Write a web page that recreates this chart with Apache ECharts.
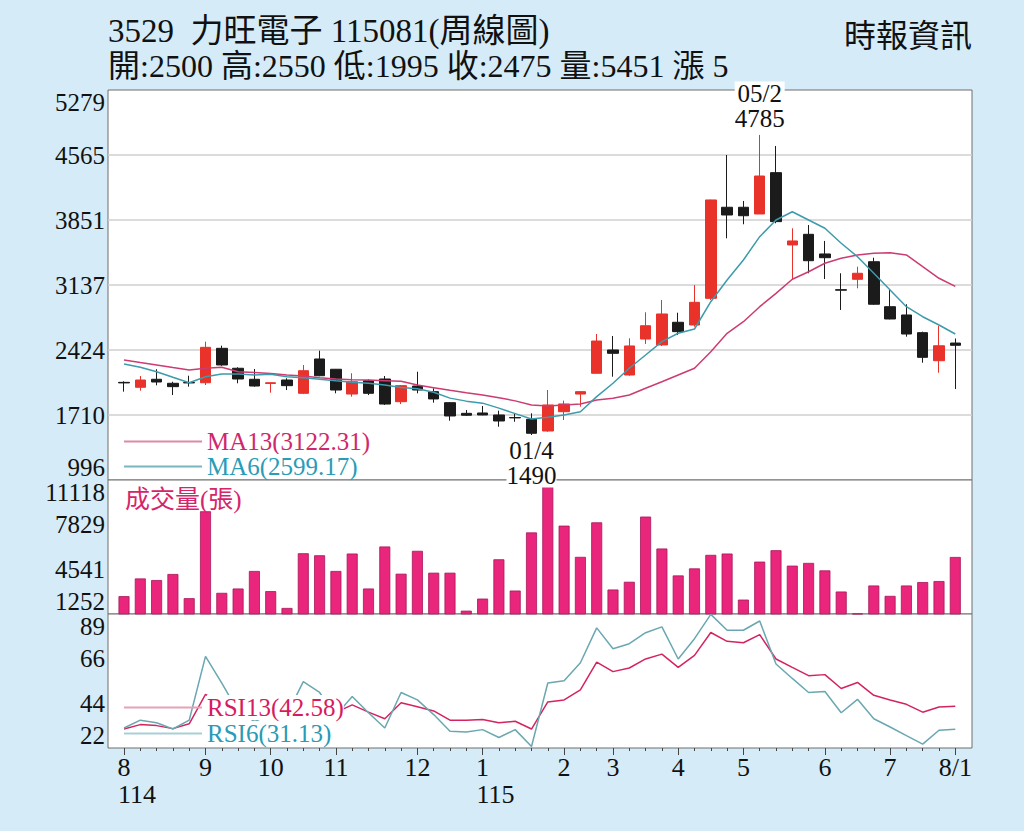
<!DOCTYPE html>
<html>
<head>
<meta charset="utf-8">
<title>3529 力旺電子 周線圖</title>
<script src="https://cdn.jsdelivr.net/npm/echarts@6/dist/echarts.min.js"></script>
<style>
html,body{margin:0;padding:0;background:#d5ecf8;overflow:hidden;}
#chart{width:1024px;height:831px;}
</style>
</head>
<body>
<div id="chart"></div>
<script>
// ---------- data ----------
const categories = [
  '114/08/1','114/08/2','114/08/3','114/08/4','114/08/5',
  '114/09/1','114/09/2','114/09/3','114/09/4',
  '114/10/1','114/10/2','114/10/3','114/10/4',
  '114/11/1','114/11/2','114/11/3','114/11/4','114/11/5',
  '114/12/1','114/12/2','114/12/3','114/12/4',
  '115/01/1','115/01/2','115/01/3','115/01/4','115/01/5',
  '115/02/1','115/02/2','115/02/3',
  '115/03/1','115/03/2','115/03/3','115/03/4',
  '115/04/1','115/04/2','115/04/3','115/04/4',
  '115/05/1','115/05/2','115/05/3','115/05/4','115/05/5',
  '115/06/1','115/06/2','115/06/3','115/06/4',
  '115/07/1','115/07/2','115/07/3','115/07/4',
  '115/08/1'
];
const opens  = [2068,2014,2102,2058,2066,2064,2442,2223,2102,2056,2094,1948,2325,2212,1940,2086,2105,1856,2028,1966,1845,1728,1732,1710,1682,1663,1534,1746,1940,2168,2424,2149,2544,2479,2728,2698,2991,3991,3991,3917,4371,3577,3694,3478,3086,3200,3393,2899,2808,2614,2306,2500];
const closes = [2062,2094,2072,2021,2062,2453,2259,2105,2028,2064,2032,2196,2141,1984,2075,1948,1830,2032,1984,1886,1699,1707,1710,1644,1678,1509,1820,1831,1966,2522,2387,2468,2690,2819,2625,2947,4071,3906,3898,4334,3833,3621,3404,3437,3080,3266,2926,2764,2599,2343,2470,2475];
const lows   = [1966,1977,2036,1929,2021,2039,2250,2058,2020,1955,1984,1940,2135,1948,1911,1929,1820,1830,1948,1845,1647,1699,1707,1581,1636,1490,1526,1655,1801,2165,2130,2141,2490,2468,2588,2680,2973,3650,3804,3917,3815,3200,3266,3203,2863,3101,2920,2760,2570,2284,2174,1995];
const highs  = [2080,2138,2212,2075,2141,2515,2471,2234,2215,2068,2113,2259,2416,2215,2168,2102,2138,2039,2185,2003,1850,1765,1809,1757,1728,1728,1984,1867,1970,2599,2577,2552,2838,2973,2833,3137,4075,4565,4060,4785,4664,3760,3796,3621,3266,3338,3437,3083,2926,2625,2690,2550];
const volumes = [2565,3871,3752,4197,2417,8818,2810,3129,4420,2936,1697,5725,5577,4420,5703,3129,6222,4219,5903,4293,4293,1497,2387,5280,2980,7260,11118,7758,5458,8002,3055,3626,8425,6074,4093,4612,5606,5703,2313,5109,5948,4813,5013,4464,2906,1290,3351,2587,3351,3603,3678,5451];
const ma13 = [2314,2286,2259,2231,2204,2223,2234,2185,2177,2166,2149,2138,2119,2105,2098,2094,2087,2080,2039,2010,1981,1955,1930,1900,1865,1820,1809,1820,1831,1875,1893,1929,2003,2075,2149,2223,2405,2607,2734,2899,3046,3200,3283,3376,3431,3467,3486,3492,3467,3338,3211,3122];
const ma6  = [2270,2234,2185,2124,2064,2130,2160,2160,2149,2157,2130,2119,2102,2085,2070,2058,2039,2012,1998,1960,1895,1862,1840,1785,1725,1665,1685,1710,1746,1911,2058,2223,2369,2515,2607,2654,2954,3192,3412,3668,3851,3942,3851,3760,3596,3448,3266,3083,2899,2789,2698,2599];
const rsi13 = [31.2,33.4,32.9,31.4,33.8,48.5,44.0,42.0,39.5,40.5,39.5,45.0,43.0,39.5,43.2,39.6,36.3,44.3,42.3,40.2,35.6,35.6,35.9,34.3,35.1,31.2,44.7,45.7,50.7,64.5,59.8,61.6,66.1,68.5,61.9,67.9,79.3,74.9,74.2,78.2,66.1,61.9,57.8,58.3,51.4,54.4,48.0,45.7,43.5,39.6,42.2,42.58];
const rsi6  = [31.7,35.6,34.3,31.2,35.6,67.4,54.1,40.0,35.0,38.0,38.5,54.8,49.4,38.0,47.4,39.3,31.7,49.4,45.7,38.4,30.1,29.7,30.9,27.0,30.9,22.5,54.1,55.3,64.2,81.6,71.2,73.7,79.2,82.1,66.1,76.2,88.3,80.4,80.4,85.0,63.6,56.4,49.4,49.9,39.3,46.0,36.3,32.2,27.9,23.7,30.6,31.13];

// tick labels
const priceTicks  = [996,1710,2424,3137,3851,4565,5279];
const volumeTicks = [1252,4541,7829,11118];
const rsiTicks    = [22,44,66,89];
const monthTicks = ['114/08/1','114/09/1','114/10/1','114/11/1','114/12/1','115/01/1','115/02/1','115/03/1','115/04/1','115/05/1','115/06/1','115/07/1','115/08/1'];
const monthTickLabels = ['8','9','10','11','12','1','2','3','4','5','6','7','8/1'];
const yearTicks = ['114/08/1','115/01/1'];
const yearTickLabels = ['114','115'];

// texts
const stockTitle = '3529  力旺電子 115081(周線圖)';
const sourceText = '時報資訊';
const volumeTitle = '成交量(張)';
const legendText = {MA13:'MA13(3122.31)', MA6:'MA6(2599.17)', RSI13:'RSI13(42.58)', RSI6:'RSI6(31.13)'};

// ---------- chart ----------
const FONT = "'Liberation Serif','Noto Sans CJK TC',serif";
const last = closes.length - 1;
const quoteLine = '開:' + opens[last] + ' 高:' + highs[last] + ' 低:' + lows[last] +
  ' 收:' + closes[last] + ' 量:' + volumes[last] + ' 漲 ' + (closes[last] - closes[last - 1]);
const hiIdx = highs.indexOf(Math.max.apply(null, highs));
const loIdx = lows.indexOf(Math.min.apply(null, lows));

function nearestLabel(ticks) {
  return function (v) {
    let b = 0;
    for (let k = 1; k < ticks.length; k++) if (Math.abs(ticks[k] - v) < Math.abs(ticks[b] - v)) b = k;
    return String(ticks[b]);
  };
}
function frameY(gridIndex, ticks, steps, split) {
  const interval = Math.round((ticks[ticks.length - 1] - ticks[0]) / steps * 4) / 4;
  const min = ticks[0] - (gridIndex === 2 ? 0.25 : 0);
  return {
    type: 'value', gridIndex: gridIndex, min: min, max: min + interval * steps, interval: interval,
    axisLine: {show: false}, axisTick: {show: false},
    axisLabel: {margin: 3, fontSize: 25, fontFamily: FONT, color: '#111', formatter: nearestLabel(ticks),
      verticalAlignMinLabel: 'bottom', verticalAlignMaxLabel: 'top'},
    splitLine: split ? {show: true, lineStyle: {width: 1.5,
      color: ticks.map(function (t, k) { return (k === 0 || k === ticks.length - 1) ? 'rgba(0,0,0,0)' : '#cfcfcf'; })}}
      : {show: false}
  };
}
const yP = frameY(0, priceTicks, 6, true);
const yV = frameY(1, volumeTicks, 3, false);
const yR = frameY(2, rsiTicks, 3, false);

const panes = [{top: 90, height: 390}, {top: 480, height: 134}, {top: 614, height: 134}];
const frameGrids = panes.map(function (p) {
  return {left: 108, right: 52, top: p.top, height: p.height, show: true, backgroundColor: '#ffffff',
    borderColor: '#6e6e6e', borderWidth: 1, outerBoundsMode: 'none'};
});
const innerGrids = panes.map(function (p) {
  return {left: 115.85, right: 60.55, top: p.top, height: p.height, outerBoundsMode: 'none'};
});

function hiddenX(g) { return {type: 'category', gridIndex: g, data: categories, show: false, boundaryGap: true}; }
const labelRich = {
  m: {fontSize: 26, fontFamily: FONT, color: '#111', lineHeight: 27},
  y: {fontSize: 26, fontFamily: FONT, color: '#111', lineHeight: 27, padding: [0, 0, 0, 26]}
};

const option = {
  backgroundColor: '#d5ecf8',
  animation: false,
  textStyle: {fontFamily: FONT},
  title: [
    {text: stockTitle, subtext: quoteLine, left: 108, top: 14, padding: 0, itemGap: 1,
      textStyle: {fontSize: 33, fontWeight: 'normal', color: '#111', fontFamily: FONT, lineHeight: 34},
      subtextStyle: {fontSize: 32, color: '#111', fontFamily: FONT, lineHeight: 33}},
    {text: sourceText, right: 52, top: 20, padding: 0,
      textStyle: {fontSize: 32, fontWeight: 'normal', color: '#111', fontFamily: FONT}},
    {text: volumeTitle, left: 125, top: 487, padding: 0,
      textStyle: {fontSize: 25, fontWeight: 'normal', color: '#d6246a', fontFamily: FONT}}
  ],
  legend: [
    {orient: 'vertical', left: 124, top: 429, padding: 0, itemGap: 0, itemWidth: 78, itemHeight: 2, icon: 'rect',
      selectedMode: false,
      formatter: function (n) { return legendText[n]; },
      textStyle: {fontSize: 25, fontFamily: FONT, lineHeight: 25, backgroundColor: '#ffffff'},
      data: [
        {name: 'MA13', itemStyle: {color: '#d98aa8'}, textStyle: {color: '#d0286c'}},
        {name: 'MA6', itemStyle: {color: '#78b6c2'}, textStyle: {color: '#2a9cb6'}}
      ]},
    {orient: 'vertical', left: 124, top: 695, padding: 0, itemGap: 1, itemWidth: 78, itemHeight: 2, icon: 'rect',
      selectedMode: false,
      formatter: function (n) { return legendText[n]; },
      textStyle: {fontSize: 25, fontFamily: FONT, lineHeight: 25, backgroundColor: '#ffffff'},
      data: [
        {name: 'RSI13', itemStyle: {color: '#e6a2b8'}, textStyle: {color: '#d81b60'}},
        {name: 'RSI6', itemStyle: {color: '#a9cfd6'}, textStyle: {color: '#2a9ab5'}}
      ]}
  ],
  grid: frameGrids.concat(innerGrids),
  xAxis: [
    hiddenX(0), hiddenX(1), hiddenX(2), hiddenX(3), hiddenX(4),
    {type: 'category', gridIndex: 5, data: categories, boundaryGap: true, position: 'bottom',
      axisLine: {show: false},
      axisTick: {show: true, interval: 0, alignWithLabel: true, length: 3, lineStyle: {color: '#444', width: 1}},
      axisLabel: {
        interval: function (i, v) { return monthTicks.indexOf(v) >= 0; },
        margin: 6, fontSize: 26, fontFamily: FONT, color: '#111', lineHeight: 27,
        formatter: function (v) {
          const m = monthTickLabels[monthTicks.indexOf(v)];
          const y = yearTicks.indexOf(v);
          return y >= 0 ? '{m|' + m + '}\n{y|' + yearTickLabels[y] + '}' : m;
        },
        rich: labelRich
      },
      splitLine: {show: false}},
    {type: 'category', gridIndex: 5, data: categories, boundaryGap: true, position: 'bottom',
      axisLine: {show: false}, axisLabel: {show: false}, splitLine: {show: false},
      axisTick: {show: true, alignWithLabel: true, length: 7, lineStyle: {color: '#444', width: 1},
        interval: function (i, v) { return monthTicks.indexOf(v) >= 0; }}}
  ],
  yAxis: [
    yP, yV, yR,
    {type: 'value', gridIndex: 3, min: yP.min, max: yP.max, show: false, splitLine: {show: false}},
    {type: 'value', gridIndex: 4, min: yV.min, max: yV.max, show: false, splitLine: {show: false}},
    {type: 'value', gridIndex: 5, min: yR.min, max: yR.max, show: false, splitLine: {show: false}}
  ],
  series: [
    {type: 'candlestick', name: 'K', xAxisIndex: 3, yAxisIndex: 3, barWidth: 11,
      data: categories.map(function (c, i) { return [opens[i], closes[i], lows[i], highs[i]]; }),
      itemStyle: {color: '#e8322a', color0: '#1b1b1b', borderColor: '#e8322a', borderColor0: '#1b1b1b', borderWidth: 1},
      markPoint: {
        symbol: 'circle', symbolSize: 1, itemStyle: {color: 'rgba(0,0,0,0)'},
        label: {show: true, fontSize: 25, fontFamily: FONT, color: '#111', lineHeight: 25, backgroundColor: '#ffffff'},
        data: [
          {coord: [categories[hiIdx], highs[hiIdx]],
            label: {position: 'top', distance: 3, formatter: categories[hiIdx].slice(4) + '\n' + highs[hiIdx]}},
          {coord: [categories[loIdx], lows[loIdx]],
            label: {position: 'bottom', distance: 2, formatter: categories[loIdx].slice(4) + '\n' + lows[loIdx]}}
        ]
      }},
    {type: 'line', name: 'MA13', xAxisIndex: 3, yAxisIndex: 3, data: ma13, symbol: 'none',
      lineStyle: {color: '#cc3c72', width: 1.5}, itemStyle: {color: '#cc3c72'}},
    {type: 'line', name: 'MA6', xAxisIndex: 3, yAxisIndex: 3, data: ma6, symbol: 'none',
      lineStyle: {color: '#3d9bab', width: 1.5}, itemStyle: {color: '#3d9bab'}},
    {type: 'bar', name: 'VOL', xAxisIndex: 4, yAxisIndex: 4, data: volumes, barWidth: 11,
      itemStyle: {color: '#e9267c', borderColor: '#a8175a', borderWidth: 0.8}},
    {type: 'line', name: 'RSI13', xAxisIndex: 5, yAxisIndex: 5, data: rsi13, symbol: 'none',
      lineStyle: {color: '#d42460', width: 1.5}, itemStyle: {color: '#d42460'}},
    {type: 'line', name: 'RSI6', xAxisIndex: 5, yAxisIndex: 5, data: rsi6, symbol: 'none',
      lineStyle: {color: '#6aa7b0', width: 1.5}, itemStyle: {color: '#6aa7b0'}}
  ]
};

const chart = echarts.init(document.getElementById('chart'), null, {renderer: 'svg', width: 1024, height: 831});
chart.setOption(option);
</script>
</body>
</html>
